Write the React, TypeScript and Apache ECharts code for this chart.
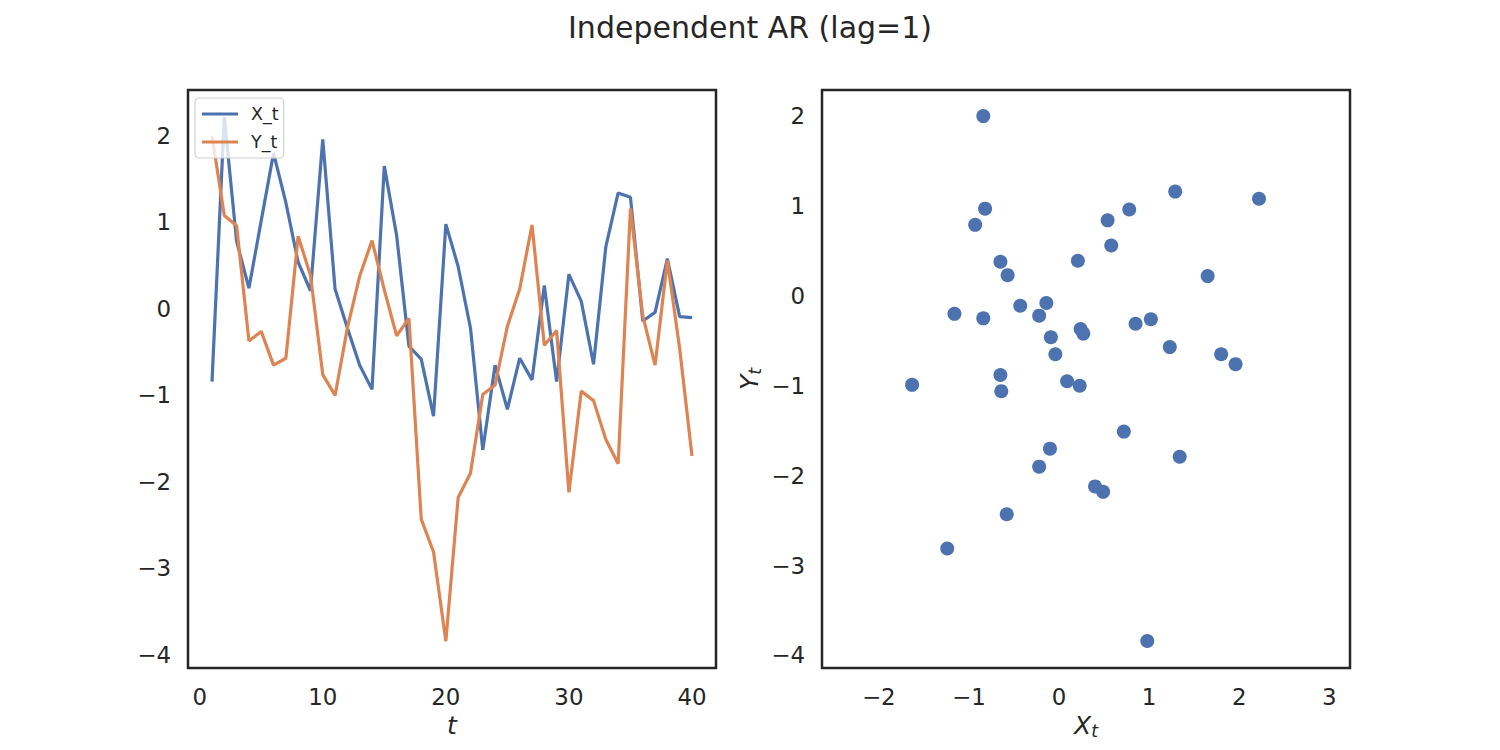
import React, { useEffect, useRef } from "react";
import * as echarts from "echarts";

const T = Array.from({ length: 40 }, (_, i) => i + 1);
const X_T = [-0.84, 2.22, 0.78, 0.24, 1.02, 1.80, 1.23, 0.54, 0.21, 1.96, 0.23, -0.22, -0.65, -0.93, 1.65, 0.85, -0.43, -0.58, -1.24, 0.98, 0.49, -0.22, -1.63, -0.65, -1.16, -0.57, -0.82, 0.27, -0.84, 0.40, 0.09, -0.64, 0.72, 1.34, 1.29, -0.14, -0.04, 0.58, -0.09, -0.10];
const Y_T = [2.00, 1.08, 0.96, -0.37, -0.26, -0.65, -0.57, 0.84, 0.39, -0.76, -1.00, -0.22, 0.38, 0.79, 0.22, -0.31, -0.11, -2.43, -2.81, -3.84, -2.18, -1.90, -0.99, -0.88, -0.20, 0.23, 0.97, -0.42, -0.25, -2.12, -0.95, -1.06, -1.51, -1.79, 1.16, -0.08, -0.65, 0.56, -0.46, -1.70];

const LEFT_X_TICKS = [0, 10, 20, 30, 40];
const LEFT_Y_TICKS = [-4, -3, -2, -1, 0, 1, 2];
const RIGHT_X_TICKS = [-2, -1, 0, 1, 2, 3];
const RIGHT_Y_TICKS = [-4, -3, -2, -1, 0, 1, 2];

const TITLE = "Independent AR (lag=1)";
const FONT = "DejaVu Sans";
const INK = "#262626";
const BLUE = "#4c72b0";
const ORANGE = "#dd8452";

const fmt = (v: number) => (v < 0 ? "\u2212" + Math.abs(v) : String(v));

export default function App() {
  const ref = useRef<HTMLDivElement>(null);
  useEffect(() => {
    if (!ref.current) return;
    const chart = echarts.init(ref.current, null, { renderer: "svg" });
    const axisLabel = (vals: number[]) => ({
      customValues: vals,
      formatter: fmt,
      color: INK,
      fontSize: 22.9,
      fontFamily: FONT,
      margin: 17,
    });
    const baseAxis = {
      type: "value" as const,
      axisLine: { show: false },
      axisTick: { show: false },
      splitLine: { show: false },
    };
    const nameRich = {
      a: { fontSize: 25, fontStyle: "italic", fontFamily: FONT, color: INK },
      b: { fontSize: 17.5, fontStyle: "italic", fontFamily: FONT, color: INK, padding: [12, 0, 0, 0] },
    };
    chart.setOption({
      animation: false,
      backgroundColor: "#ffffff",
      title: {
        text: TITLE,
        left: "center",
        top: 7,
        textStyle: { fontSize: 30, fontWeight: "normal", color: INK, fontFamily: FONT },
      },
      legend: {
        left: 195,
        top: 98,
        orient: "vertical",
        data: [
          { name: "X_t", icon: "rect" },
          { name: "Y_t", icon: "rect" },
        ],
        itemWidth: 36,
        itemHeight: 3,
        itemGap: 10,
        padding: [7, 5, 7, 7],
        borderColor: "#d0d0d0",
        borderWidth: 1.2,
        borderRadius: 4,
        backgroundColor: "rgba(255,255,255,0.8)",
        textStyle: { fontSize: 17.5, color: INK, fontFamily: FONT, padding: [0, 0, 0, 8] },
      },
      grid: [
        { left: 188, top: 90, width: 528, height: 578, show: true, borderColor: INK, borderWidth: 2.5, backgroundColor: "transparent" },
        { left: 822, top: 90, width: 528, height: 578, show: true, borderColor: INK, borderWidth: 2.5, backgroundColor: "transparent" },
      ],
      xAxis: [
        {
          ...baseAxis,
          gridIndex: 0,
          min: -0.95,
          max: 41.95,
          axisLabel: axisLabel(LEFT_X_TICKS),
          name: "t",
          nameLocation: "middle",
          nameGap: 42,
          nameTextStyle: { fontSize: 25, fontStyle: "italic", color: INK, fontFamily: FONT },
        },
        {
          ...baseAxis,
          gridIndex: 1,
          min: -2.63,
          max: 3.23,
          axisLabel: axisLabel(RIGHT_X_TICKS),
          name: "{a|X}{b|t}",
          nameLocation: "middle",
          nameGap: 42,
          nameTextStyle: { rich: nameRich },
        },
      ],
      yAxis: [
        {
          ...baseAxis,
          gridIndex: 0,
          min: -4.15,
          max: 2.53,
          axisLabel: axisLabel(LEFT_Y_TICKS),
        },
        {
          ...baseAxis,
          gridIndex: 1,
          min: -4.14,
          max: 2.29,
          axisLabel: axisLabel(RIGHT_Y_TICKS),
          name: "{a|Y}{b|t}",
          nameLocation: "middle",
          nameRotate: 90,
          nameGap: 58,
          nameTextStyle: { rich: nameRich },
        },
      ],
      series: [
        {
          name: "X_t",
          type: "line",
          xAxisIndex: 0,
          yAxisIndex: 0,
          data: T.map((t, i) => [t, X_T[i]]),
          symbol: "none",
          lineStyle: { color: BLUE, width: 3.2 },
          itemStyle: { color: BLUE },
        },
        {
          name: "Y_t",
          type: "line",
          xAxisIndex: 0,
          yAxisIndex: 0,
          data: T.map((t, i) => [t, Y_T[i]]),
          symbol: "none",
          lineStyle: { color: ORANGE, width: 3.2 },
          itemStyle: { color: ORANGE },
        },
        {
          type: "scatter",
          xAxisIndex: 1,
          yAxisIndex: 1,
          data: X_T.map((x, i) => [x, Y_T[i]]),
          symbolSize: 14,
          itemStyle: { color: BLUE, opacity: 1 },
        },
      ],
    });
    return () => chart.dispose();
  }, []);
  return (
    <div
      ref={ref}
      style={{ position: "fixed", left: 0, top: 0, width: 1500, height: 750, background: "#fff" }}
    />
  );
}
